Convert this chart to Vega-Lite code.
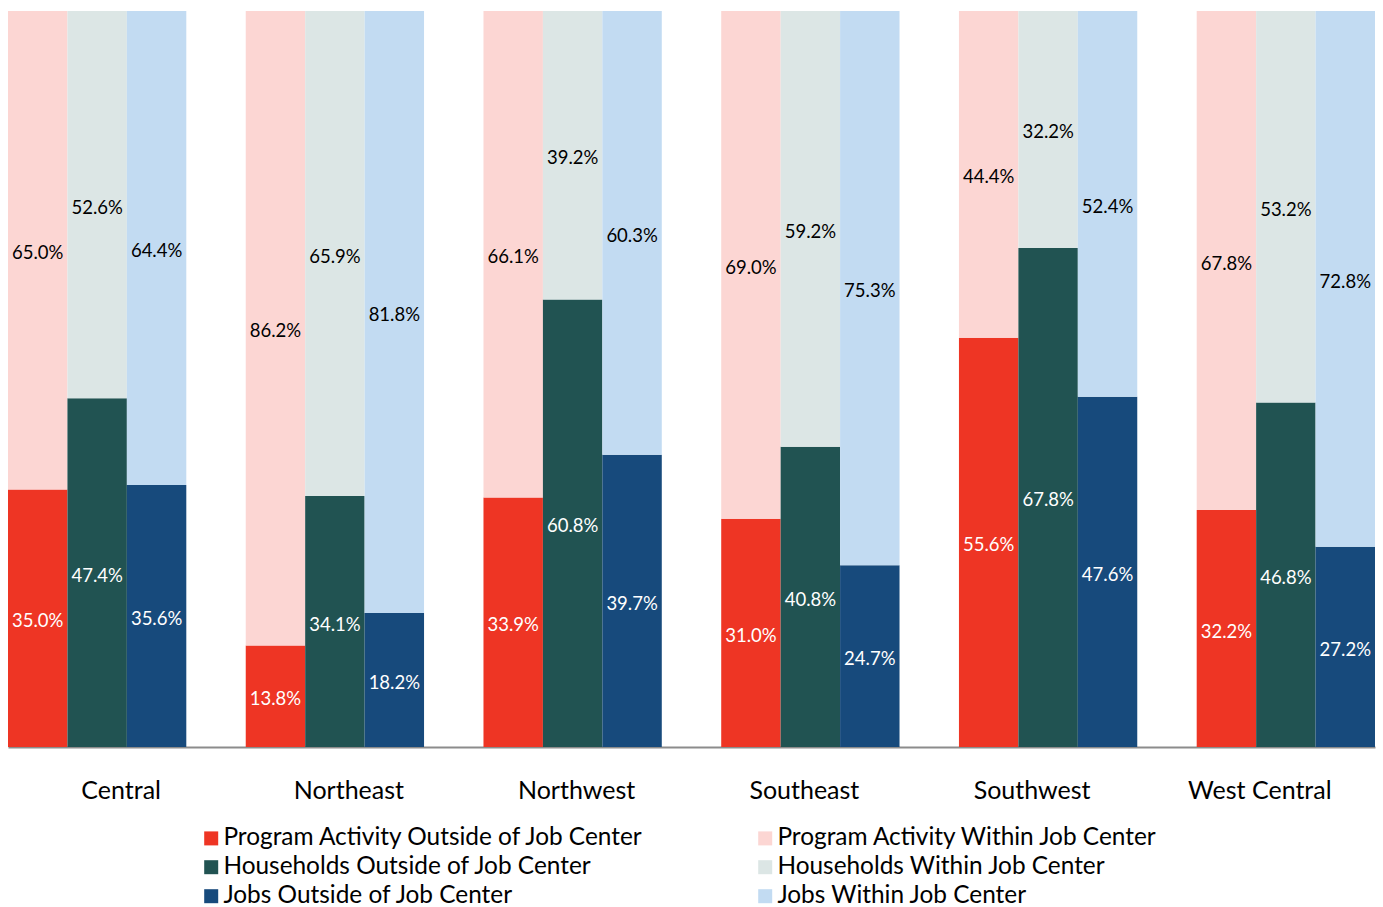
{
  "$schema": "https://vega.github.io/schema/vega-lite/v6.json",
  "width": 1367,
  "height": 736,
  "autosize": "none",
  "padding": {"left": 8, "top": 11, "right": 8, "bottom": 160},
  "background": "white",
  "config": {"font": "Lato", "view": {"stroke": null}},
  "data": {
    "values": [
      {"region": "Central", "measure": "Program Activity", "location": "Outside", "series": "Program Activity Outside of Job Center", "value": 35.0},
      {"region": "Central", "measure": "Program Activity", "location": "Within", "series": "Program Activity Within Job Center", "value": 65.0},
      {"region": "Central", "measure": "Households", "location": "Outside", "series": "Households Outside of Job Center", "value": 47.4},
      {"region": "Central", "measure": "Households", "location": "Within", "series": "Households Within Job Center", "value": 52.6},
      {"region": "Central", "measure": "Jobs", "location": "Outside", "series": "Jobs Outside of Job Center", "value": 35.6},
      {"region": "Central", "measure": "Jobs", "location": "Within", "series": "Jobs Within Job Center", "value": 64.4},
      {"region": "Northeast", "measure": "Program Activity", "location": "Outside", "series": "Program Activity Outside of Job Center", "value": 13.8},
      {"region": "Northeast", "measure": "Program Activity", "location": "Within", "series": "Program Activity Within Job Center", "value": 86.2},
      {"region": "Northeast", "measure": "Households", "location": "Outside", "series": "Households Outside of Job Center", "value": 34.1},
      {"region": "Northeast", "measure": "Households", "location": "Within", "series": "Households Within Job Center", "value": 65.9},
      {"region": "Northeast", "measure": "Jobs", "location": "Outside", "series": "Jobs Outside of Job Center", "value": 18.2},
      {"region": "Northeast", "measure": "Jobs", "location": "Within", "series": "Jobs Within Job Center", "value": 81.8},
      {"region": "Northwest", "measure": "Program Activity", "location": "Outside", "series": "Program Activity Outside of Job Center", "value": 33.9},
      {"region": "Northwest", "measure": "Program Activity", "location": "Within", "series": "Program Activity Within Job Center", "value": 66.1},
      {"region": "Northwest", "measure": "Households", "location": "Outside", "series": "Households Outside of Job Center", "value": 60.8},
      {"region": "Northwest", "measure": "Households", "location": "Within", "series": "Households Within Job Center", "value": 39.2},
      {"region": "Northwest", "measure": "Jobs", "location": "Outside", "series": "Jobs Outside of Job Center", "value": 39.7},
      {"region": "Northwest", "measure": "Jobs", "location": "Within", "series": "Jobs Within Job Center", "value": 60.3},
      {"region": "Southeast", "measure": "Program Activity", "location": "Outside", "series": "Program Activity Outside of Job Center", "value": 31.0},
      {"region": "Southeast", "measure": "Program Activity", "location": "Within", "series": "Program Activity Within Job Center", "value": 69.0},
      {"region": "Southeast", "measure": "Households", "location": "Outside", "series": "Households Outside of Job Center", "value": 40.8},
      {"region": "Southeast", "measure": "Households", "location": "Within", "series": "Households Within Job Center", "value": 59.2},
      {"region": "Southeast", "measure": "Jobs", "location": "Outside", "series": "Jobs Outside of Job Center", "value": 24.7},
      {"region": "Southeast", "measure": "Jobs", "location": "Within", "series": "Jobs Within Job Center", "value": 75.3},
      {"region": "Southwest", "measure": "Program Activity", "location": "Outside", "series": "Program Activity Outside of Job Center", "value": 55.6},
      {"region": "Southwest", "measure": "Program Activity", "location": "Within", "series": "Program Activity Within Job Center", "value": 44.4},
      {"region": "Southwest", "measure": "Households", "location": "Outside", "series": "Households Outside of Job Center", "value": 67.8},
      {"region": "Southwest", "measure": "Households", "location": "Within", "series": "Households Within Job Center", "value": 32.2},
      {"region": "Southwest", "measure": "Jobs", "location": "Outside", "series": "Jobs Outside of Job Center", "value": 47.6},
      {"region": "Southwest", "measure": "Jobs", "location": "Within", "series": "Jobs Within Job Center", "value": 52.4},
      {"region": "West Central", "measure": "Program Activity", "location": "Outside", "series": "Program Activity Outside of Job Center", "value": 32.2},
      {"region": "West Central", "measure": "Program Activity", "location": "Within", "series": "Program Activity Within Job Center", "value": 67.8},
      {"region": "West Central", "measure": "Households", "location": "Outside", "series": "Households Outside of Job Center", "value": 46.8},
      {"region": "West Central", "measure": "Households", "location": "Within", "series": "Households Within Job Center", "value": 53.2},
      {"region": "West Central", "measure": "Jobs", "location": "Outside", "series": "Jobs Outside of Job Center", "value": 27.2},
      {"region": "West Central", "measure": "Jobs", "location": "Within", "series": "Jobs Within Job Center", "value": 72.8}
    ]
  },
  "encoding": {
    "x": {
      "field": "region",
      "type": "nominal",
      "sort": ["Central", "Northeast", "Northwest", "Southeast", "Southwest", "West Central"],
      "scale": {"paddingInner": 0.25, "paddingOuter": 0},
      "axis": {
        "title": null,
        "labelAngle": 0,
        "labelFont": "Lato",
        "labelFontSize": 25,
        "labelColor": "#000000",
        "labelBaseline": "alphabetic",
        "labelPadding": 51,
        "ticks": false,
        "tickSize": 0,
        "domainColor": "#8c8c8c",
        "domainWidth": 2,
        "labelOffset": {
          "condition": [
            {"test": "datum.value === 'Central'", "value": 24},
            {"test": "datum.value === 'Northeast'", "value": 14},
            {"test": "datum.value === 'Northwest'", "value": 4},
            {"test": "datum.value === 'Southeast'", "value": -6},
            {"test": "datum.value === 'Southwest'", "value": -16},
            {"test": "datum.value === 'West Central'", "value": -26}
          ],
          "value": 0
        }
      }
    },
    "xOffset": {
      "field": "measure",
      "type": "nominal",
      "sort": ["Program Activity", "Households", "Jobs"],
      "scale": {"paddingInner": 0, "paddingOuter": 0}
    }
  },
  "layer": [
    {
      "mark": {"type": "bar"},
      "encoding": {
        "y": {"field": "value", "type": "quantitative", "stack": "zero", "scale": {"domain": [0, 100]}, "axis": null},
        "order": {"field": "location", "sort": "ascending"},
        "color": {
          "field": "series",
          "type": "nominal",
          "scale": {
            "domain": [
              "Program Activity Outside of Job Center",
              "Program Activity Within Job Center",
              "Households Outside of Job Center",
              "Households Within Job Center",
              "Jobs Outside of Job Center",
              "Jobs Within Job Center"
            ],
            "range": ["#EE3524", "#FCD6D3", "#215352", "#DCE6E5", "#174A7C", "#C2DBF2"]
          },
          "legend": {
            "title": null,
            "orient": "none",
            "legendX": 191,
            "legendY": 815,
            "columns": 2,
            "direction": "horizontal",
            "symbolType": "square",
            "symbolSize": 196,
            "symbolStrokeWidth": 0,
            "labelFont": "Lato",
            "labelFontSize": 24.4,
            "labelColor": "#000000",
            "labelOffset": 0,
            "labelLimit": 1000,
            "rowPadding": 4,
            "columnPadding": 108
          }
        }
      }
    },
    {
      "transform": [
        {"stack": "value", "groupby": ["region", "measure"], "sort": [{"field": "location", "order": "ascending"}], "as": ["v0", "v1"]},
        {"calculate": "(datum.v0 + datum.v1) / 2", "as": "mid"},
        {"calculate": "format(datum.value, '.1f') + '%'", "as": "lbl"}
      ],
      "mark": {"type": "text", "font": "Lato", "fontSize": 18.5, "baseline": "middle", "align": "center", "dy": 3},
      "encoding": {
        "y": {"field": "mid", "type": "quantitative", "scale": {"domain": [0, 100]}},
        "text": {"field": "lbl"},
        "color": {"condition": {"test": "datum.location === 'Outside'", "value": "white"}, "value": "black"}
      }
    }
  ]
}
